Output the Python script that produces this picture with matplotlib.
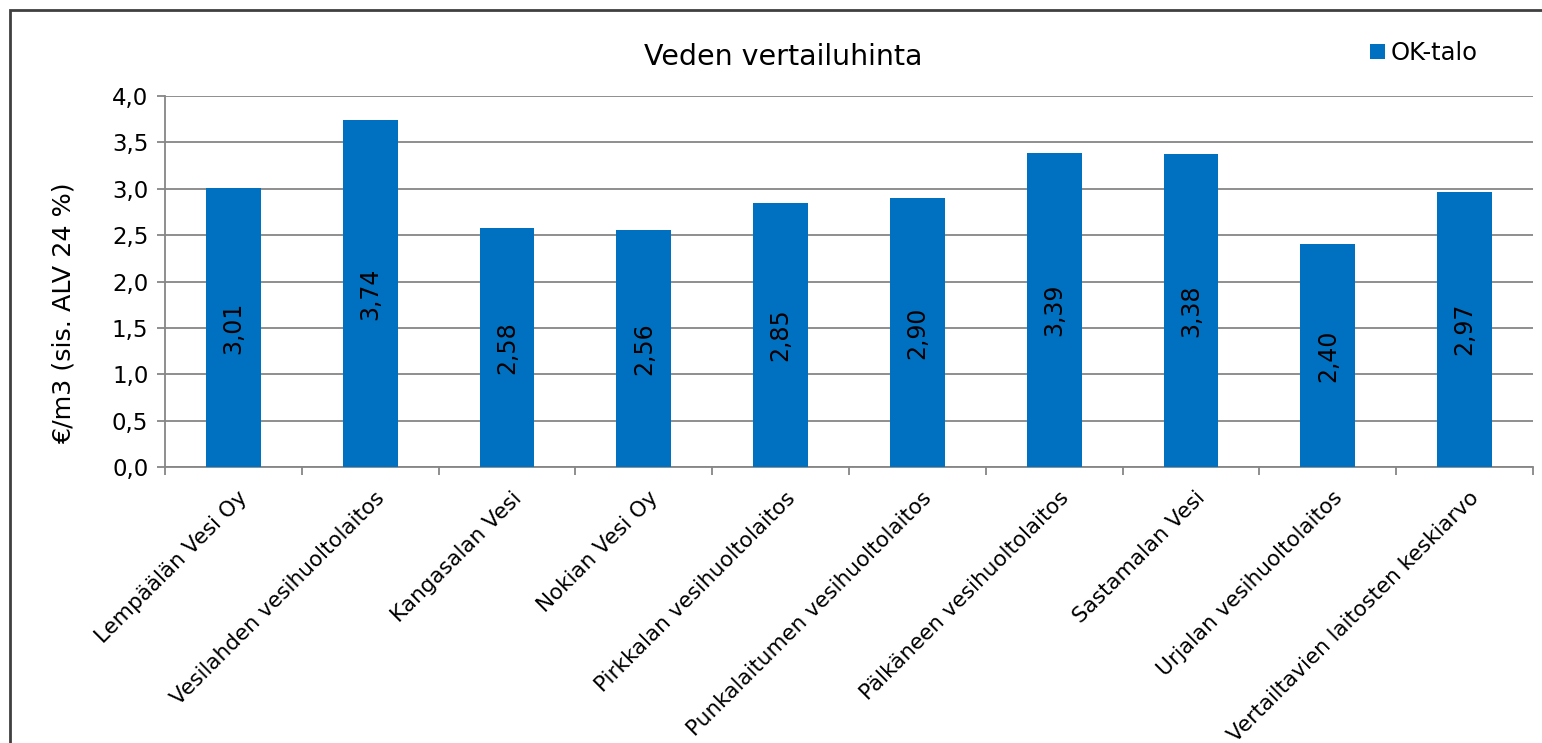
import matplotlib.pyplot as plt
from matplotlib.patches import Rectangle

# Data
laitokset = [
    "Lempäälän Vesi Oy",
    "Vesilahden vesihuoltolaitos",
    "Kangasalan Vesi",
    "Nokian Vesi Oy",
    "Pirkkalan vesihuoltolaitos",
    "Punkalaitumen vesihuoltolaitos",
    "Pälkäneen vesihuoltolaitos",
    "Sastamalan Vesi",
    "Urjalan vesihuoltolaitos",
    "Vertailtavien laitosten keskiarvo",
]
ok_talo = [3.01, 3.74, 2.58, 2.56, 2.85, 2.90, 3.39, 3.38, 2.40, 2.97]
y_ticks = [0.0, 0.5, 1.0, 1.5, 2.0, 2.5, 3.0, 3.5, 4.0]

BLUE = "#0070C0"
GRID = "#868686"

plt.rcParams["font.family"] = ["DejaVu Sans"]

fig = plt.figure(figsize=(15.42, 7.43), dpi=100)
ax = fig.add_axes([165 / 1542, 1 - 467 / 743, (1533 - 165) / 1542, (467 - 96) / 743])

x = list(range(len(laitokset)))
bars = ax.bar(x, ok_talo, width=0.4, color=BLUE, zorder=3, label="OK-talo")

# value labels, vertical, in the middle of each bar
for xi, v in zip(x, ok_talo):
    ax.text(xi, v / 2, f"{v:.2f}".replace(".", ","), rotation=90,
            ha="center", va="center", fontsize=17, color="black", zorder=4)

ax.set_xlim(-0.5, len(laitokset) - 0.5)
ax.set_ylim(0, 4.0)
ax.set_yticks(y_ticks)
ax.set_yticklabels([f"{t:.1f}".replace(".", ",") for t in y_ticks], fontsize=16.5)
ax.yaxis.grid(True, color=GRID, linewidth=1.3, zorder=0)
ax.tick_params(axis="y", length=6, width=1.3, color=GRID, pad=6)

# category boundary ticks on x axis
ax.set_xticks([i - 0.5 for i in range(len(laitokset) + 1)], minor=False)
ax.set_xticklabels([])
ax.tick_params(axis="x", length=6, width=1.3, color=GRID, direction="out")
for xi, name in zip(x, laitokset):
    ax.annotate(name, xy=(xi, 0), xycoords=("data", "axes fraction"),
                xytext=(3, -15), textcoords="offset points",
                rotation=45, ha="right", va="top", rotation_mode="anchor",
                fontsize=15.5)

for side in ["top", "right"]:
    ax.spines[side].set_visible(False)
for side in ["left", "bottom"]:
    ax.spines[side].set_color(GRID)
    ax.spines[side].set_linewidth(1.3)

ax.set_ylabel("€/m3 (sis. ALV 24 %)", fontsize=18.3, va="center")
ax.yaxis.set_label_coords((64 - 165) / 1368, (467 - 313) / 371)

fig.text(783 / 1542, 1 - 57 / 743, "Veden vertailuhinta", ha="center", va="center",
         fontsize=20.5)

leg = fig.legend(handles=[bars], labels=["OK-talo"], loc="center left",
                 bbox_to_anchor=(1358 / 1542, 1 - 53 / 743), frameon=False,
                 fontsize=17.5, handlelength=0.6, handleheight=0.6,
                 handletextpad=0.25, borderpad=0)

# outer chart frame (cropped on right and bottom)
fig.patches.append(Rectangle((10 / 1542, -0.1), 1.2, 1 - 10 / 743 + 0.1,
                             transform=fig.transFigure, fill=False,
                             edgecolor="#404040", linewidth=2))

fig.savefig("out.png", dpi=100)
